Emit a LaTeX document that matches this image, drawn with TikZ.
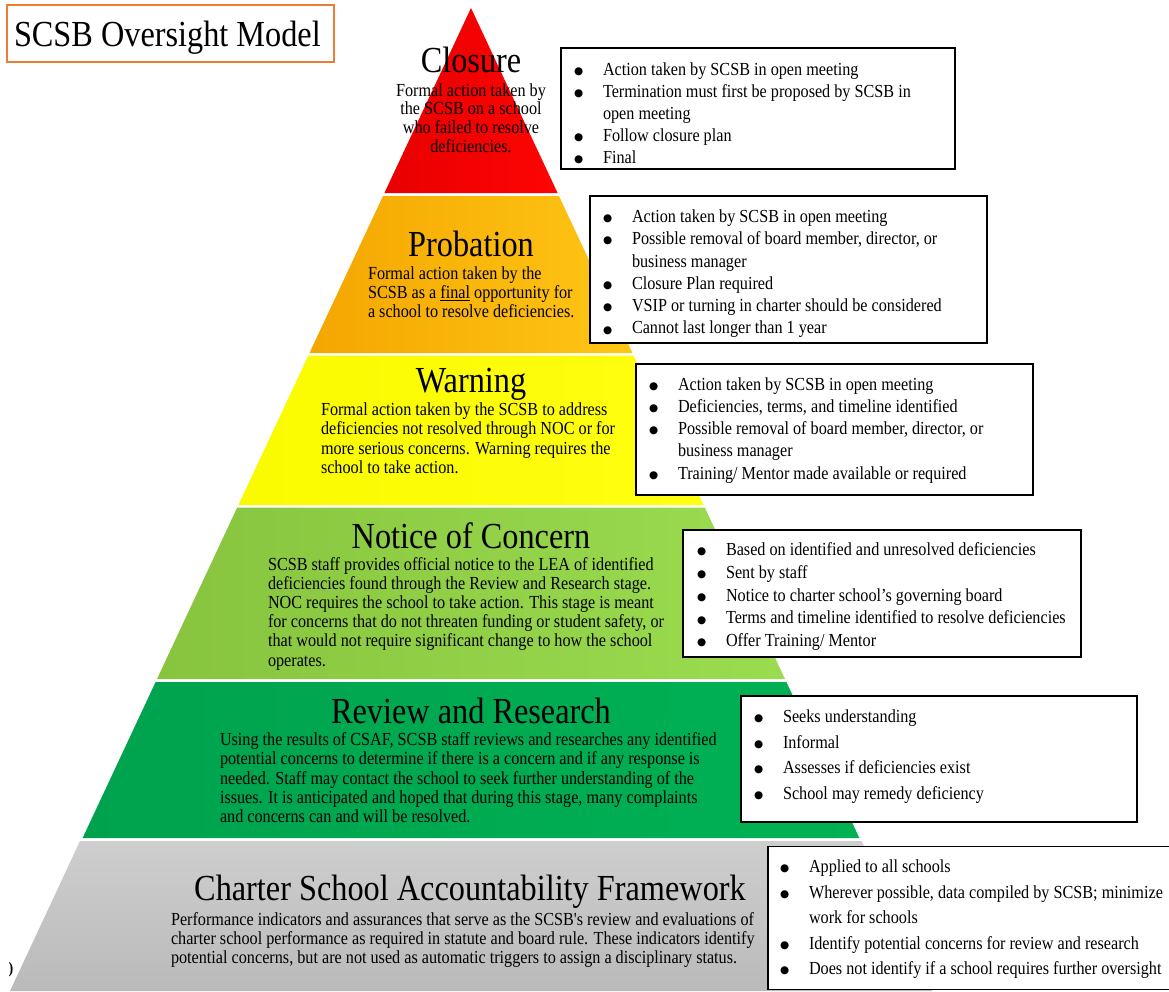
\documentclass[tikz,border=0pt]{standalone}
\usepackage{fontspec}
\setmainfont{Liberation Serif}[FakeStretch=0.88]
\newfontfamily\plainf{Liberation Serif}[FakeStretch=0.88]
\newfontfamily\dejav{DejaVu Sans}
\definecolor{redA}{RGB}{232,0,0}
\definecolor{redB}{RGB}{255,4,4}
\definecolor{orA}{RGB}{244,166,0}
\definecolor{orB}{RGB}{255,198,22}
\definecolor{yeA}{RGB}{250,250,0}
\definecolor{yeB}{RGB}{255,255,16}
\definecolor{lgA}{RGB}{136,196,62}
\definecolor{lgB}{RGB}{154,220,80}
\definecolor{dgA}{RGB}{0,162,78}
\definecolor{dgB}{RGB}{0,178,84}
\definecolor{grA}{RGB}{206,206,206}
\definecolor{grB}{RGB}{186,186,186}
\definecolor{ttlorange}{RGB}{237,125,49}
\newcommand\fh{\rule{0pt}{13pt}}
\newcommand\bu{\makebox[42pt][l]{\hspace*{13pt}\raisebox{0.9pt}{\fontsize{10.5}{10.5}\dejav ●}}}
\newcommand\cn{\hspace*{42pt}}
\begin{document}
\begin{tikzpicture}[x=1pt,y=-1pt,
  txt/.style={inner sep=0pt, outer sep=0pt},
  body/.style={txt, font=\fontsize{18.4}{19.2}\selectfont, align=left, anchor=north west},
  ttl/.style={txt, font=\fontsize{36.7}{40}\selectfont, anchor=base},
  listbox/.style={draw=black, line width=1.6pt, fill=white},
  blist/.style={txt, align=left, anchor=north west, font=\fontsize{18.4}{#1}\selectfont}]
\useasboundingbox (0,0) rectangle (1169,991);
\fill[white] (0,0) rectangle (1169,991);

% pyramid bands
\shade[left color=redA, right color=redB] (471,8) -- (557.6,193) -- (384.4,193) -- cycle;
\shade[left color=orA, right color=orB] (383.0,196) -- (559.0,196) -- (632.5,353) -- (309.5,353) -- cycle;
\shade[left color=yeA, right color=yeB] (308.4,355.5) -- (633.6,355.5) -- (703.6,505) -- (238.4,505) -- cycle;
\shade[left color=lgA, right color=lgB] (237.2,507.5) -- (704.8,507.5) -- (785,679) -- (157,679) -- cycle;
\shade[left color=dgA, right color=dgB] (155.6,682) -- (786.4,682) -- (859.4,838) -- (82.6,838) -- cycle;
\shade[top color=grA, bottom color=grB] (80,841) -- (861.5,841) -- (932,991) -- (10,991) -- cycle;

% title box
\draw[draw=ttlorange, line width=1.4pt, fill=white] (7,5) rectangle (334,62);
\node[txt, font=\fontsize{36.7}{40}\selectfont, anchor=base west] (title) at (14,46) {SCSB Oversight Model};

% stray glyph
\node[txt, font=\fontsize{16}{16}\selectfont\bfseries] (stray) at (11,970) {)};

% level titles
\node[ttl] (tclos) at (471,72.7) {Closure};
\node[ttl] (tprob) at (471,256) {Probation};
\node[ttl] (twarn) at (471,392) {Warning};
\node[ttl] (tnoc)  at (471,548) {Notice of Concern};
\node[ttl] (trr)   at (471,723) {Review and Research};
\node[ttl] (tcsaf) at (470,900) {Charter School Accountability Framework};

% level descriptions
\node[txt, font=\fontsize{18.4}{18.7}\selectfont, align=center, anchor=north] (dclos) at (471,83)
 {\fh Formal action taken by\\the SCSB on a school\\who failed to resolve\\deficiencies.};
\node[body] (dprob) at (368,266.3)
 {\fh Formal action taken by the\\SCSB as a \underline{final} opportunity for\\a school to resolve deficiencies.};
\node[body] (dwarn) at (321,402.7)
 {\fh Formal action taken by the SCSB to address\\deficiencies not resolved through NOC or for\\more serious concerns. Warning requires the\\school to take action.};
\node[body] (dnoc) at (268,557)
 {\fh SCSB staff provides official notice to the LEA of identified\\deficiencies found through the Review and Research stage.\\NOC requires the school to take action. This stage is meant\\for concerns that do not threaten funding or student safety, or\\that would not require significant change to how the school\\operates.};
\node[body] (drr) at (220,732.7)
 {\fh Using the results of CSAF, SCSB staff reviews and researches any identified\\potential concerns to determine if there is a concern and if any response is\\needed. Staff may contact the school to seek further understanding of the\\issues. It is anticipated and hoped that during this stage, many complaints\\and concerns can and will be resolved.};
\node[body] (dcsaf) at (171,912)
 {\fh Performance indicators and assurances that serve as the SCSB{\plainf'}s review and evaluations of\\charter school performance as required in statute and board rule. These indicators identify\\potential concerns, but are not used as automatic triggers to assign a disciplinary status.};

% bullet boxes
\draw[listbox] (561,48) rectangle (955,169);
\node[blist=22.1] (lclos) at (561,62)
 {\fh\bu Action taken by SCSB in open meeting\\\bu Termination must first be proposed by SCSB in\\\cn open meeting\\\bu Follow closure plan\\\bu Final};

\draw[listbox] (590,196) rectangle (987,343);
\node[blist=22.3] (lprob) at (590,209.4)
 {\fh\bu Action taken by SCSB in open meeting\\\bu Possible removal of board member, director, or\\\cn business manager\\\bu Closure Plan required\\\bu VSIP or turning in charter should be considered\\\bu Cannot last longer than 1 year};

\draw[listbox] (636,364) rectangle (1033,495);
\node[blist=22.25] (lwarn) at (636,377)
 {\fh\bu Action taken by SCSB in open meeting\\\bu Deficiencies, terms, and timeline identified\\\bu Possible removal of board member, director, or\\\cn business manager\\\bu Training/ Mentor made available or required};

\draw[listbox] (683,530) rectangle (1081,657);
\node[blist=22.75] (lnoc) at (684,542.7)
 {\fh\bu Based on identified and unresolved deficiencies\\\bu Sent by staff\\\bu Notice to charter school’s governing board\\\bu Terms and timeline identified to resolve deficiencies\\\bu Offer Training/ Mentor};

\draw[listbox] (741,696) rectangle (1137,822);
\node[blist=25.7] (lrr) at (741,709.4)
 {\fh\bu Seeks understanding\\\bu Informal\\\bu Assesses if deficiencies exist\\\bu School may remedy deficiency};

\draw[listbox] (768,846.5) rectangle (1176,989.5);
\node[blist=25.5] (lcsaf) at (767,859.7)
 {\fh\bu Applied to all schools\\\bu Wherever possible, data compiled by SCSB; minimize\\\cn work for schools\\\bu Identify potential concerns for review and research\\\bu Does not identify if a school requires further oversight};
\end{tikzpicture}
\end{document}
